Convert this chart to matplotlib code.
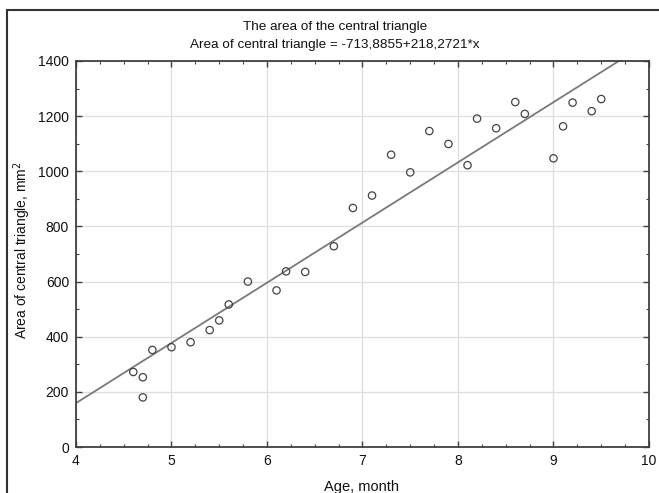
import numpy as np
import matplotlib
matplotlib.use('Agg')
import matplotlib.pyplot as plt
from matplotlib.patches import Rectangle

plt.rcParams['font.family'] = ['Liberation Sans', 'DejaVu Sans']

# age (months) and central triangle area (mm^2)
age = [4.6, 4.7, 4.7, 4.8, 5.0, 5.2, 5.4, 5.5, 5.6, 5.8,
       6.1, 6.2, 6.4, 6.7, 6.9, 7.1, 7.3, 7.5, 7.7, 7.9,
       8.1, 8.2, 8.4, 8.6, 8.7, 9.0, 9.1, 9.2, 9.4, 9.5]
area = [272, 253, 180, 352, 362, 380, 424, 459, 517, 600,
        568, 637, 635, 728, 867, 912, 1060, 996, 1146, 1099,
        1022, 1191, 1156, 1251, 1208, 1047, 1163, 1249, 1218, 1262]

# regression coefficients from the title
b0 = -713.8855
b1 = 218.2721

f = plt.figure(figsize=(6.59, 4.93), dpi=100)
ax = f.add_axes([0.1153, 0.0933, 0.8695, 0.783])

# outer frame
f.patches.append(Rectangle((7/659, -0.05), 1.1, 1 - 10/493 + 0.05,
                           transform=f.transFigure, fill=False,
                           edgecolor='#333333', linewidth=1.5))

ax.set_xlim(4, 10)
ax.set_ylim(0, 1400)
ax.set_xticks(np.arange(4, 10.01, 1))
ax.set_yticks(np.arange(0, 1401, 200))
ax.set_xticks(np.arange(4, 10.01, 0.25), minor=True)
ax.set_yticks(np.arange(0, 1401, 100), minor=True)
ax.grid(True, which='major', color='#dedede', linewidth=0.9)
ax.set_axisbelow(True)

xs = np.array([4, 10])
ax.plot(xs, b0 + b1 * xs, color='#7a7a7a', linewidth=1.3, zorder=2)
ax.scatter(age, area, s=28, facecolors='none', edgecolors='#444444',
           linewidths=0.9, zorder=3)

for sp in ax.spines.values():
    sp.set_color('#404040')
    sp.set_linewidth(1.3)
ax.tick_params(which='both', direction='in', top=True, right=True,
               color='#404040', labelsize=10, labelcolor='#111111')
ax.tick_params(which='major', length=4, width=1.0, pad=5)
ax.tick_params(which='minor', length=2.5, width=0.8)

# two-line title, centred on the figure frame
f.text(335/659, 1 - 27/493, 'The area of the central triangle',
       ha='center', va='center', fontsize=9.7, color='#111111')
f.text(335/659, 1 - 45/493, 'Area of central triangle = -713,8855+218,2721*x',
       ha='center', va='center', fontsize=9.7, color='#111111')

ax.set_xlabel('Age, month', fontsize=10.5, color='#111111')
ax.xaxis.set_label_coords(0.498, -0.085)
ax.set_ylabel('Area of central triangle, mm$^2$', fontsize=10, color='#111111')
ax.yaxis.set_label_coords(-0.075, 0.51)

plt.savefig('out.png', dpi=100)
plt.close()
